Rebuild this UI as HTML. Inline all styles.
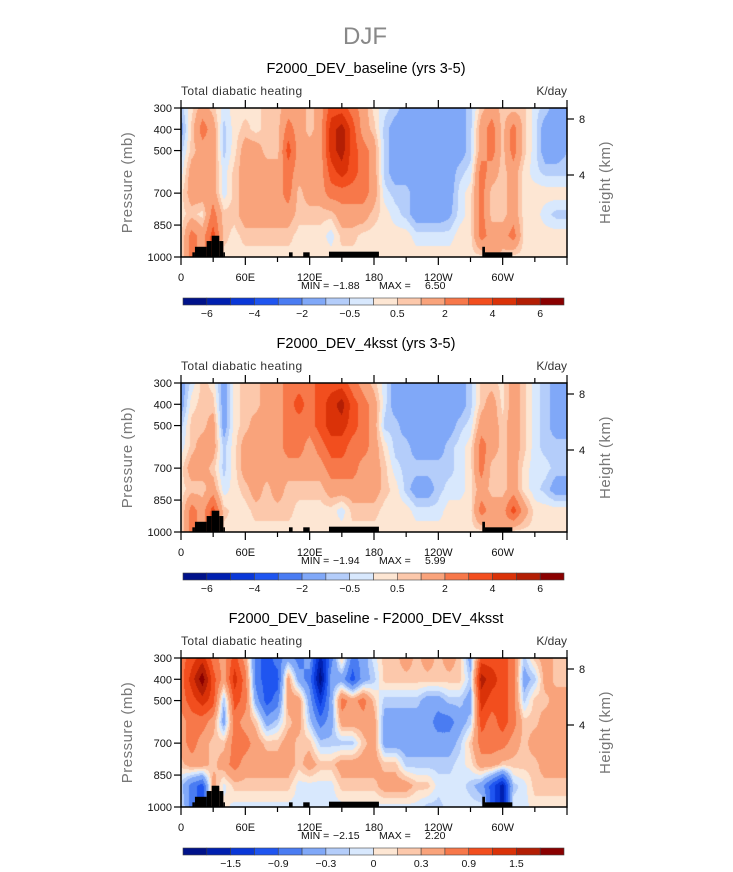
<!DOCTYPE html>
<html><head><meta charset="utf-8">
<style>
html,body{margin:0;padding:0;background:#fff;}
#wrap{position:relative;width:733px;height:872px;overflow:hidden;font-family:"Liberation Sans",sans-serif;}
canvas{position:absolute;left:181px;}
svg{position:absolute;left:0;top:0;}
</style></head>
<body>
<div id="wrap">
<canvas id="c0" width="386" height="149" style="top:108px"></canvas>
<canvas id="c1" width="386" height="149" style="top:383px"></canvas>
<canvas id="c2" width="386" height="149" style="top:658px"></canvas>
<svg id="ov" width="733" height="872"></svg>
</div>
<script>
const lons=[0,10,20,30,40,50,60,70,80,90,100,110,120,130,140,150,160,170,180,190,200,210,220,230,240,250,260,270,280,290,300,310,320,330,340,350,360];
const pressures=[300,400,500,600,700,800,900,1000];
const levelsA=[-6,-5,-4,-3,-2,-1,-0.5,0,0.5,1,2,3,4,5,6];
const levelsB=[-1.8,-1.5,-1.2,-0.9,-0.6,-0.3,-0.15,0,0.15,0.3,0.6,0.9,1.2,1.5,1.8];
const labelsA=["−6","−4","−2","−0.5","0.5","2","4","6"];
const labelsB=["−1.5","−0.9","−0.3","0","0.3","0.9","1.5"];
const colors=["#00128a","#0020b0","#0a38d8","#1f55f0","#4a7cf2","#80a8f8","#b4cdfa","#d8e8fd","#fde6d3","#fcc8ab","#f9a37b","#f7784a","#f24e1e","#da3208","#b31e04","#8a0000"];
const titles=["F2000_DEV_baseline (yrs 3-5)","F2000_DEV_4ksst (yrs 3-5)","F2000_DEV_baseline - F2000_DEV_4ksst"];
const minVals=["−1.88","−1.94","−2.15"];
const maxVals=["6.50","5.99","2.20"];
const xTickLabels=["0","60E","120E","180","120W","60W"];
const pTicks=[300,400,500,700,850,1000];
const hTicks=[4,8];
const topo=[[10.6,13,978],[13,23.9,952],[23.9,28.6,925],[28.6,35.7,900],[35.7,39.5,925],[39.5,41,978],[100.7,104.1,978],[114,120,978],[138,184.6,975],[281,283.5,952],[283.5,309,978]];
const fieldBase=[
[-0.7,-1.5,-0.7,-0.3,0.3,0.3,0.3,0.3],[0.3,0.7,0.7,1.5,1.5,0.7,2.5,2.5],[1.5,2.5,1.5,1.5,1.5,0.3,1.5,1.5],[0.7,1.5,1.5,1.5,1.5,2.5,3.5,3.5],
[-0.3,-0.7,-0.7,-0.3,-0.3,0.7,0.7,0.3],[0.3,0.25,0.3,0.7,0.7,0.7,0.3,0.3],[0.3,0.7,1.5,1.5,1.5,1.5,0.7,0.3],[0.3,0.3,1.5,1.5,1.5,1.5,0.7,0.3],
[0.7,0.7,0.7,1.5,1.5,1.5,0.7,0.3],[0.7,0.7,0.7,1.5,1.5,1.5,0.7,0.3],[1.5,2.5,3.5,2.5,2.5,1.5,0.7,0.3],[1.5,1.5,1.5,1.5,0.7,0.7,0.3,0.3],
[0.7,0.7,1.5,1.5,1.5,0.7,0.3,0.3],[1.5,1.5,1.5,1.5,1.5,0.7,0.3,0.3],[3.5,4.5,4.5,3.5,2.5,0.7,-0.3,0.3],[3.5,5.5,5.5,4.5,2.5,1.5,0.7,0.3],
[2.5,3.5,3.5,3.5,2.5,1.5,0.7,0.3],[1.5,1.5,2.5,2.5,2.5,1.5,0.3,0.3],[0.3,0.7,1.5,1.5,1.5,0.7,0.3,0.3],[-0.3,-0.7,-0.7,-0.7,-0.3,0.3,0.3,0.3],
[-0.7,-1.5,-1.5,-1.5,-0.7,-0.3,0.3,0.3],[-1.5,-1.5,-1.5,-1.5,-0.7,-0.7,0.3,0.3],[-1.5,-1.5,-1.5,-1.5,-1.5,-1.5,-0.3,0.3],[-1.5,-1.5,-1.5,-1.5,-1.5,-1.5,-0.3,0.3],
[-1.5,-1.5,-1.5,-1.5,-1.5,-1.5,-0.3,0.3],[-1.5,-1.5,-1.5,-1.5,-1.5,-1.2,-0.3,0.3],[-1.5,-1.5,-1.5,-0.7,-0.3,-0.3,0.3,0.3],[-0.7,-0.7,-0.7,-0.3,0.3,0.3,0.3,0.3],
[0.7,1.5,1.5,2.5,2.5,2.5,2.5,0.3],[1.5,2.5,2.5,1.5,0.7,0.7,1.5,1.5],[0.7,0.7,0.7,0.7,0.7,0.7,1.5,0.7],[0.7,2.5,2.5,1.5,1.5,1.5,2.5,0.3],
[0.7,0.7,0.7,0.3,0.3,0.3,0.3,0.3],[-0.3,-0.3,-0.3,-0.3,0.3,0.3,0.3,0.3],[-0.7,-1.5,-1.5,-0.7,0.3,-0.3,0.3,0.3],[-1.5,-1.5,-1.5,-0.7,0.3,-0.7,0.3,0.3],
[-1.5,-1.5,-1.0,-0.7,0.3,-0.7,0.3,0.3]];
const field4k=[
[-1.5,-1.5,-0.7,-0.3,0.3,0.3,0.3,0.3],[-0.3,0.3,0.7,0.7,1.5,0.7,2.5,2.5],[0.7,0.7,0.7,1.5,1.5,0.7,1.5,1.5],[0.3,0.7,1.5,1.5,0.7,1.5,3.5,3.5],
[-1.5,-1.5,-1.5,-0.7,-0.7,-0.3,0.7,0.3],[0.3,0.3,0.3,0.3,0.3,0.3,0.3,0.3],[0.7,0.7,0.7,1.5,1.5,0.7,0.3,0.3],[0.7,0.7,1.5,1.5,1.5,1.5,0.7,0.3],
[1.5,1.5,1.5,1.5,1.5,0.7,0.7,0.3],[1.5,1.5,1.5,1.5,1.5,1.5,0.7,0.3],[2.5,2.5,2.5,2.5,1.5,0.7,0.7,0.3],[2.5,3.5,2.5,2.5,1.5,0.7,0.3,0.3],
[2.5,2.5,2.5,1.5,1.5,0.7,0.3,0.3],[3.5,3.5,3.5,2.5,1.5,0.7,0.3,0.3],[3.5,4.5,4.5,3.5,2.5,1.5,0.3,0.3],[3.5,5.5,4.5,3.5,2.5,1.5,-0.3,0.3],
[2.5,3.5,3.5,2.5,2.5,1.5,0.7,0.3],[1.5,2.5,2.5,2.5,1.5,1.5,0.7,0.3],[0.7,1.5,1.5,1.5,1.5,1.5,0.7,0.3],[-0.3,-0.3,-0.7,0.3,0.7,0.7,0.3,0.3],
[-1.5,-1.5,-0.7,-0.7,-0.3,0.3,0.3,0.3],[-1.5,-1.5,-1.5,-0.7,-0.7,-0.7,0.3,0.3],[-1.5,-1.5,-1.5,-1.5,-0.7,-1.5,-0.3,0.3],[-1.5,-1.5,-1.5,-1.5,-0.7,-1.5,-0.3,0.3],
[-1.5,-1.5,-1.5,-1.5,-0.7,-0.7,-0.3,0.3],[-1.5,-1.5,-1.5,-0.7,-0.7,-0.3,0.3,0.3],[-1.5,-1.5,-0.7,-0.3,-0.3,-0.3,0.3,0.3],[-0.7,-0.7,-0.3,0.3,0.3,0.3,0.3,0.3],
[0.7,0.7,1.5,2.5,2.5,1.5,2.5,0.3],[0.7,1.5,1.5,1.5,0.7,0.7,1.5,1.5],[0.3,0.3,0.7,0.7,0.7,0.7,1.5,1.5],[1.5,1.5,1.5,1.5,1.5,1.5,3.5,0.3],
[0.7,0.7,0.7,0.7,0.3,0.3,1.5,0.3],[-0.3,-0.3,-0.3,-0.3,-0.3,-0.3,0.3,0.3],[-0.7,-0.7,-0.7,-0.7,-0.3,-0.7,0.3,0.3],[-1.5,-1.5,-1.5,-0.7,-0.7,-1.5,0.3,0.3],
[-1.5,-1.5,-1.5,-0.7,-0.7,-1.5,0.3,0.3]];
const fieldDiff=[
[0.75,0.75,0.75,0.45,0.45,0.22,-0.22,-0.07],[1.05,1.35,1.05,0.75,0.75,0.45,-0.75,-0.75],[1.35,2,1.35,0.75,0.45,0.45,-1.05,-1.05],[0.75,1.05,1.05,0.45,0.22,0.22,0.45,0.45],
[0.45,0.45,-0.3,-0.45,0.22,0.45,-0.07,0.07],[1.05,1.35,1.05,0.75,0.75,0.75,0.22,-0.07],[0.45,0.75,0.75,0.45,0.75,0.45,0.22,-0.07],[-0.75,-0.75,-0.45,0.22,0.45,0.45,0.22,-0.07],
[-1.05,-1.05,-1.05,-0.45,0.22,0.45,0.22,-0.07],[-0.75,-1.05,-0.75,-0.22,0.22,0.45,0.22,-0.07],[-0.45,0.45,0.45,0.22,0.45,0.45,0.22,-0.07],[-0.75,-0.45,0.45,0.45,0.22,0.22,-0.07,-0.07],
[-0.45,-0.75,-0.45,-0.22,0.22,0.45,-0.07,-0.07],[-1.65,-2,-1.35,-0.75,-0.22,0.22,-0.07,-0.07],[-0.75,-0.45,-0.45,-0.45,-0.22,0.22,-0.07,-0.07],[0.22,-0.45,0.75,0.45,-0.22,0.45,0.22,-0.07],
[-0.75,-1.05,0.45,0.45,-0.22,0.45,0.22,-0.07],[-0.45,-0.45,0.75,0.45,0.22,0.45,0.22,-0.07],[-0.07,-0.22,0.22,0.45,0.45,0.45,0.22,-0.07],[0.22,0.22,-0.22,-0.45,-0.45,0.22,0.45,-0.07],
[0.22,0.22,-0.22,-0.45,-0.45,0.22,0.45,-0.07],[0.45,0.22,-0.22,-0.45,-0.45,-0.22,0.45,-0.07],[0.22,0.22,-0.22,-0.45,-0.45,-0.22,0.22,-0.07],[0.45,0.22,-0.45,-0.45,-0.45,-0.22,0.22,-0.22],
[0.22,0.22,-0.45,-0.75,-0.45,-0.22,-0.07,-0.22],[0.45,0.22,-0.22,-0.75,-0.45,-0.22,-0.07,-0.07],[0.22,0.22,-0.22,-0.45,-0.22,-0.07,-0.07,-0.07],[-0.45,-0.22,-0.45,-0.22,0.22,0.07,-0.22,-0.07],
[1.05,1.65,1.35,1.05,0.75,0.45,-0.45,-0.07],[1.05,1.35,1.05,0.75,0.75,0.45,-1.05,-1.05],[1.05,1.05,1.05,1.05,0.75,0.22,-1.65,-1.65],[0.75,0.75,0.75,0.75,0.45,0.22,-0.22,-0.07],
[-0.22,-0.45,-0.22,0.22,0.22,0.22,-0.07,-0.07],[0.22,-0.22,0.22,0.22,0.45,0.22,0.22,0.07],[0.45,0.45,0.22,0.45,0.45,0.45,0.22,0.07],[0.22,0.22,0.45,0.45,0.45,0.45,0.22,0.07],
[0.22,0.22,0.45,0.45,0.45,0.45,0.22,0.07]];

const fields=[fieldBase,field4k,fieldDiff];
const levelSets=[levelsA,levelsA,levelsB];
const labelSets=[labelsA,labelsA,labelsB];
const offsets=[0,275,550];
const PX=181,PW=386,PT=108,PH=149;
const xScale=lon=>PX+lon/360*PW;
const yScale=p=>PT+(p-300)/700*PH;
const NS="http://www.w3.org/2000/svg";
const ov=document.getElementById('ov');
function hex(c){return [parseInt(c.slice(1,3),16),parseInt(c.slice(3,5),16),parseInt(c.slice(5,7),16)];}
const rgb=colors.map(hex);
function colorIndex(v,lv){let i=0;while(i<lv.length&&v>=lv[i])i++;return i;}
function sample(f,lon,p){
  let fi=lon/10, pi=(p-300)/100;
  fi=Math.max(0,Math.min(lons.length-1.0001,fi)); pi=Math.max(0,Math.min(pressures.length-1.0001,pi));
  const i=Math.floor(fi),j=Math.floor(pi),a=fi-i,b=pi-j;
  const v00=f[i][j],v10=f[i+1][j],v01=f[i][j+1],v11=f[i+1][j+1];
  return (v00*(1-a)+v10*a)*(1-b)+(v01*(1-a)+v11*a)*b;
}
function el(tag,attrs,parent,text){const e=document.createElementNS(NS,tag);for(const k in attrs)e.setAttribute(k,attrs[k]);if(text!==undefined)e.textContent=text;(parent||ov).appendChild(e);return e;}

fields.forEach((f,k)=>{
  const cv=document.getElementById('c'+k),ctx=cv.getContext('2d');
  const img=ctx.createImageData(PW,PH);
  for(let y=0;y<PH;y++){
    const p=300+(y+0.5)/PH*700;
    for(let x=0;x<PW;x++){
      const lon=(x+0.5)/PW*360;
      const c=rgb[colorIndex(sample(f,lon,p),levelSets[k])];
      const o=(y*PW+x)*4;img.data[o]=c[0];img.data[o+1]=c[1];img.data[o+2]=c[2];img.data[o+3]=255;
    }
  }
  ctx.putImageData(img,0,0);
  const dy=offsets[k];
  const g=el('g',{transform:'translate(0,'+dy+')'});
  
  
  topo.forEach(t=>{
    const r=el('rect',{x:xScale(t[0]),y:yScale(t[2]),width:xScale(t[1])-xScale(t[0]),height:yScale(1000)-yScale(t[2]),fill:'#000'},g);
    
    
  });
  const fr=el('rect',{x:PX,y:PT,width:PW,height:PH,fill:'none',stroke:'#000','stroke-width':1.5},g);
  
  
  for(let lon=0;lon<=360;lon+=30){
    const len=lon%60===0?8:5,x=xScale(lon);
    el('line',{x1:x,x2:x,y1:PT,y2:PT-len,stroke:'#000','stroke-width':1.2},g);
    el('line',{x1:x,x2:x,y1:PT+PH,y2:PT+PH+len,stroke:'#000','stroke-width':1.2},g);
  }
  xTickLabels.forEach((s,i)=>{
    const t=el('text',{x:xScale(i*60),y:PT+PH+24,'font-size':11,'text-anchor':'middle',fill:'#111'},g,s);
    
    
  });
  pTicks.forEach(p=>{
    const y=yScale(p);
    el('line',{x1:PX,x2:PX-7,y1:y,y2:y,stroke:'#000','stroke-width':1.2},g);
    const t=el('text',{x:PX-9,y:y+4,'font-size':11,'text-anchor':'end',fill:'#111'},g,String(p));
    
    
  });
  hTicks.forEach(h=>{
    const y=PT+(h===8?11:67);
    el('line',{x1:PX+PW,x2:PX+PW+7,y1:y,y2:y,stroke:'#000','stroke-width':1.2},g);
    const t=el('text',{x:PX+PW+12,y:y+4,'font-size':11,fill:'#111'},g,String(h));
    
    
  });
  let t=el('text',{x:366,y:73,'font-size':14.5,'text-anchor':'middle',fill:'#000'},g,titles[k]);
  
  
  t=el('text',{x:181,y:95,'font-size':12,fill:'#333','letter-spacing':'0.4'},g,'Total diabatic heating');
  
  
  t=el('text',{x:567,y:95,'font-size':12,'text-anchor':'end',fill:'#333'},g,'K/day');
  
  
  t=el('text',{x:132,y:PT+PH/2,'font-size':15,'text-anchor':'middle',fill:'#777','letter-spacing':'0.5',transform:'rotate(-90 132 '+(PT+PH/2)+')'},g,'Pressure (mb)');
  
  
  t=el('text',{x:610,y:PT+PH/2,'font-size':15,'text-anchor':'middle',fill:'#777','letter-spacing':'0.5',transform:'rotate(-90 610 '+(PT+PH/2)+')'},g,'Height (km)');
  
  
  t=el('text',{x:301,y:289,'font-size':10.5,fill:'#111'},g,'MIN =');
  
  
  t=el('text',{x:333,y:289,'font-size':10.5,fill:'#111'},g,minVals[k]);
  
  
  t=el('text',{x:379,y:289,'font-size':10.5,fill:'#111'},g,'MAX =');
  
  
  t=el('text',{x:425,y:289,'font-size':10.5,fill:'#111'},g,maxVals[k]);
  
  
  const cw=(564-183)/16;
  colors.forEach((c,i)=>{
    const r=el('rect',{x:183+i*cw,y:298,width:cw,height:7,fill:c,stroke:'#444','stroke-width':0.6},g);
    
    
  });
  const startB=k===2?2:1;
  labelSets[k].forEach((s,i)=>{
    const b=startB+i*2;
    const tt=el('text',{x:183+b*cw,y:317,'font-size':10.5,'text-anchor':'middle',fill:'#111'},g,s);
    
    
  });
});
const dj=el('text',{x:365,y:44,'font-size':24,'text-anchor':'middle',fill:'#888'},ov,'DJF');


</script>
</body></html>
